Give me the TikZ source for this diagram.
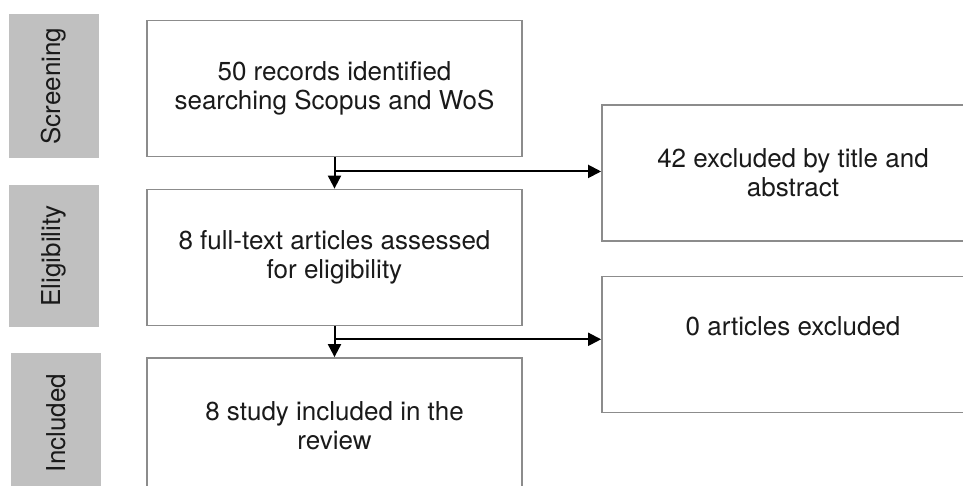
\documentclass[tikz,border=0pt]{standalone}
\usepackage{fontspec}
\setmainfont{TeX Gyre Heros}
\usetikzlibrary{arrows.meta,calc}

\definecolor{boxline}{HTML}{8C8C8C}
\definecolor{phasefill}{HTML}{C0C0C0}
\definecolor{ink}{HTML}{1A1A1A}

\tikzset{
  flowbox/.style={draw=boxline, line width=1.8pt, fill=white,
    minimum width=375pt, minimum height=136pt, align=center,
    text=ink, inner sep=0pt, font=\fontsize{26}{29}\selectfont},
  sidebox/.style={flowbox, minimum width=382pt},
  phase/.style={fill=phasefill, rotate=90, minimum height=90pt,
    align=center, text=ink, inner sep=0pt,
    font=\fontsize{26}{29}\selectfont},
  arr/.style={draw=black, line width=2pt,
    -{Triangle[length=13pt,width=13pt]}},
}

\begin{document}
\begin{tikzpicture}[x=1pt,y=-1pt]
  \useasboundingbox (0,0) rectangle (963,486);
  \clip (0,0) rectangle (963,486);

  % phase labels on the left
  \node[phase, minimum width=144pt] (pscr) at (54,86)  {Screening};
  \node[phase, minimum width=142pt] (pel)  at (54,256) {Eligibility};
  \node[phase, minimum width=140pt] (pinc) at (56,423) {Included};

  % main flow
  \node[flowbox] (b1) at (334.5,88.5) {50 records identified\\searching Scopus and WoS};
  \node[flowbox] (b2) at (334.5,257.5) {8 full-text articles assessed\\for eligibility};
  \node[flowbox] (b3) at (334.5,426) {8 study included in the\\review};

  % exclusion boxes
  \node[sidebox] (r1) at (793,173) {42 excluded by title and\\abstract};
  \node[sidebox] (r2) at (793,344.5) {0 articles excluded\\\strut};

  % connectors
  \draw[arr] (b1.south) -- (b2.north);
  \coordinate (j1) at ($(b1.south)!0.45!(b2.north)$);
  \draw[arr] (j1) -- (j1 -| r1.west);

  \draw[arr] (b2.south) -- (b3.north);
  \coordinate (j2) at ($(b2.south)!0.42!(b3.north)$);
  \draw[arr] (j2) -- (j2 -| r2.west);
\end{tikzpicture}
\end{document}
